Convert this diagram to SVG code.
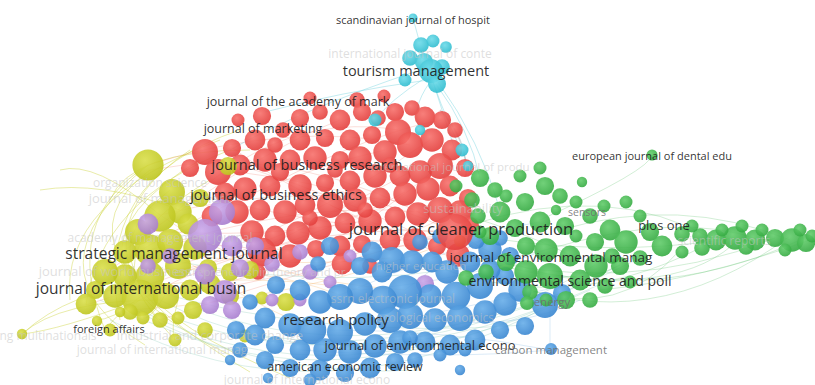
<svg xmlns="http://www.w3.org/2000/svg" width="815" height="385" viewBox="0 0 815 385">
<defs>
<radialGradient id="gr" cx=".4" cy=".35" r=".7"><stop offset="0" stop-color="#f7716c"/><stop offset="1" stop-color="#e23c3a"/></radialGradient>
<radialGradient id="gy" cx=".4" cy=".35" r=".7"><stop offset="0" stop-color="#dadf4c"/><stop offset="1" stop-color="#bcc41c"/></radialGradient>
<radialGradient id="gp" cx=".4" cy=".35" r=".7"><stop offset="0" stop-color="#cba8ea"/><stop offset="1" stop-color="#a57bcc"/></radialGradient>
<radialGradient id="gb" cx=".4" cy=".35" r=".7"><stop offset="0" stop-color="#68aee9"/><stop offset="1" stop-color="#3784cf"/></radialGradient>
<radialGradient id="gg" cx=".4" cy=".35" r=".7"><stop offset="0" stop-color="#62cc6b"/><stop offset="1" stop-color="#33a940"/></radialGradient>
<radialGradient id="gc" cx=".4" cy=".35" r=".7"><stop offset="0" stop-color="#6ddbe9"/><stop offset="1" stop-color="#2cbacd"/></radialGradient>
<radialGradient id="go" cx=".4" cy=".35" r=".7"><stop offset="0" stop-color="#f7b64e"/><stop offset="1" stop-color="#ea961e"/></radialGradient>
</defs>
<style>
.r{fill:url(#gr);fill-opacity:.9}
.y{fill:url(#gy);fill-opacity:.9}
.p{fill:url(#gp);fill-opacity:.9}
.b{fill:url(#gb);fill-opacity:.9}
.g{fill:url(#gg);fill-opacity:.9}
.c{fill:url(#gc);fill-opacity:.9}
.o{fill:url(#go);fill-opacity:.9}
/* bubbles of the main clusters are drawn a little larger than their base radius */
.big circle{transform-box:fill-box;transform-origin:center;transform:scale(1.3)}
.e path{fill:none;stroke-width:.8}
.ey path{stroke:#c8cf2a;stroke-opacity:.5}
.er path{stroke:#ee7060;stroke-opacity:.3}
.eo path{stroke:#f0a040;stroke-opacity:.3}
.et path{stroke:#7cc6b0;stroke-opacity:.35}
.eg path{stroke:#5cc26a;stroke-opacity:.35}
.ec path{stroke:#6acfdb;stroke-opacity:.5}
.eb path{stroke:#6aa8dc;stroke-opacity:.3}
.eq path{stroke:#a0a8ac;stroke-opacity:.45;stroke-width:1.6}
text{font-family:"Open Sans","Noto Sans","DejaVu Sans",sans-serif;text-anchor:middle}
.l{fill:#1c1c1c;fill-opacity:.92}
.m{fill:#6e6e6e;fill-opacity:.85}
.f{fill:#c4c4c4;fill-opacity:.55}
</style>
<rect width="815" height="385" fill="#fff"/>

<!-- links between journals -->
<g id="connectors" class="e">
<g class="ey">
<path d="M148,285 Q70,290 22,334"/>
<path d="M160,300 Q60,300 22,334"/>
<path d="M150,170 Q40,250 250,372"/>
<path d="M170,190 Q50,280 290,378"/>
<path d="M148,165 Q60,220 105,330"/>
<path d="M200,160 Q30,260 230,355"/>
<path d="M190,150 Q70,230 175,340"/>
<path d="M148,165 Q20,270 145,345"/>
<path d="M140,300 Q110,320 97,320"/>
<path d="M150,290 Q120,310 105,330"/>
<path d="M165,295 Q150,320 143,318"/>
<path d="M178,300 Q170,330 175,340"/>
<path d="M140,300 Q60,330 22,334"/>
<path d="M210,180 Q90,250 160,320"/>
<path d="M230,150 Q100,200 86,305"/>
<path d="M180,210 Q100,180 40,190"/>
<path d="M160,215 Q95,160 60,170"/>
<path d="M250,150 Q130,150 110,200"/>
<path d="M220,140 Q60,200 70,300"/>
<path d="M240,130 Q90,180 120,320"/>
</g>
<g class="er">
<path d="M150,170 Q300,140 455,232"/>
<path d="M160,215 Q300,180 440,208"/>
<path d="M148,165 Q290,120 410,145"/>
<path d="M140,300 Q280,220 455,232"/>
<path d="M150,250 Q300,200 420,212"/>
<path d="M170,240 Q320,260 455,240"/>
<path d="M105,272 Q250,180 385,150"/>
<path d="M178,265 Q300,230 430,140"/>
<path d="M165,295 Q320,280 460,210"/>
<path d="M125,250 Q260,150 340,120"/>
<path d="M140,230 Q260,240 370,220"/>
<path d="M150,275 Q300,250 405,192"/>
<path d="M190,290 Q320,270 440,165"/>
<path d="M86,305 Q260,250 355,200"/>
<path d="M200,195 Q330,230 455,232"/>
<path d="M215,170 Q340,180 455,232"/>
<path d="M240,165 Q350,200 458,253"/>
<path d="M260,250 Q360,200 450,150"/>
<path d="M300,232 Q380,250 455,232"/>
<path d="M233,148 Q300,200 420,240"/>
<path d="M270,185 Q380,130 442,120"/>
<path d="M330,205 Q400,240 460,260"/>
<path d="M160,320 Q300,270 455,232"/>
<path d="M178,210 Q280,110 398,130"/>
</g>
<g class="eo">
<path d="M130,310 Q300,300 455,240"/>
<path d="M150,250 Q280,270 390,258"/>
<path d="M105,272 Q250,260 340,295"/>
<path d="M160,215 Q250,280 405,290"/>
<path d="M140,230 Q240,300 312,328"/>
<path d="M120,290 Q250,270 360,290"/>
</g>
<g class="et">
<path d="M120,300 Q300,420 560,300"/>
<path d="M140,310 Q330,410 590,290"/>
<path d="M160,300 Q350,400 610,280"/>
<path d="M110,320 Q320,430 550,305"/>
<path d="M180,320 Q380,390 620,265"/>
<path d="M200,310 Q400,380 640,258"/>
<path d="M150,290 Q320,340 525,325"/>
<path d="M230,330 Q420,370 595,265"/>
<path d="M170,260 Q360,300 545,250"/>
<path d="M100,300 Q260,380 420,370"/>
</g>
<g class="eb">
<path d="M330,330 Q450,330 550,350"/>
<path d="M400,320 Q500,300 590,280"/>
<path d="M360,290 Q470,280 545,250"/>
<path d="M440,320 Q520,330 580,300"/>
<path d="M300,350 Q450,360 550,350"/>
<path d="M405,290 Q480,230 540,222"/>
<path d="M340,295 Q450,250 515,228"/>
<path d="M550,350 L550,300"/>
</g>
<g class="eg">
<path d="M480,260 Q650,310 800,240"/>
<path d="M500,280 Q650,340 790,236"/>
<path d="M600,290 Q700,280 810,240"/>
<path d="M560,230 Q680,195 790,240"/>
<path d="M545,250 Q680,210 760,240"/>
<path d="M525,270 Q680,300 740,238"/>
<path d="M455,232 Q600,260 735,238"/>
<path d="M458,253 Q620,300 775,238"/>
<path d="M470,225 Q610,180 715,240"/>
<path d="M540,220 Q650,170 652,155"/>
<path d="M455,232 Q560,300 620,265"/>
<path d="M440,208 Q520,230 570,255"/>
<path d="M420,260 Q560,320 700,248"/>
<path d="M530,290 Q620,320 680,250"/>
</g>
<g class="ec">
<path d="M433,82 L455,150"/>
<path d="M433,82 Q448,125 470,168"/>
<path d="M428,80 Q340,92 265,112"/>
<path d="M436,84 Q470,130 480,178"/>
<path d="M430,82 Q410,110 420,130"/>
<path d="M425,78 Q390,100 375,120"/>
<path d="M420,70 Q300,110 230,150"/>
<path d="M438,82 Q480,140 500,210"/>
<path d="M413,18 L420,44"/>
</g>
<g class="eq">
<path d="M440,110 Q468,140 466,176"/>
</g>
</g>

<!-- management and marketing journals -->
<g id="cluster-red" class="big">
<circle class="r" cx="357" cy="100" r="6"/><circle class="r" cx="238" cy="120" r="5"/><circle class="r" cx="262" cy="116" r="7"/><circle class="r" cx="283" cy="130" r="6"/><circle class="r" cx="300" cy="118" r="7"/><circle class="r" cx="320" cy="112" r="6"/><circle class="r" cx="340" cy="120" r="8"/><circle class="r" cx="362" cy="112" r="7"/><circle class="r" cx="378" cy="118" r="6"/><circle class="r" cx="395" cy="112" r="7"/><circle class="r" cx="412" cy="108" r="6"/><circle class="r" cx="425" cy="117" r="8"/><circle class="r" cx="442" cy="120" r="7"/><circle class="r" cx="398" cy="132" r="10"/><circle class="r" cx="372" cy="135" r="7"/><circle class="r" cx="350" cy="140" r="8"/><circle class="r" cx="325" cy="138" r="7"/><circle class="r" cx="300" cy="140" r="8"/><circle class="r" cx="275" cy="145" r="6"/><circle class="r" cx="255" cy="140" r="8"/><circle class="r" cx="232" cy="148" r="7"/><circle class="r" cx="205" cy="152" r="10"/><circle class="r" cx="190" cy="168" r="7"/><circle class="r" cx="218" cy="172" r="10"/><circle class="r" cx="240" cy="165" r="8"/><circle class="r" cx="265" cy="160" r="9"/><circle class="r" cx="290" cy="160" r="8"/><circle class="r" cx="315" cy="158" r="9"/><circle class="r" cx="340" cy="160" r="7"/><circle class="r" cx="360" cy="158" r="9"/><circle class="r" cx="385" cy="152" r="9"/><circle class="r" cx="410" cy="145" r="10"/><circle class="r" cx="432" cy="140" r="9"/><circle class="r" cx="452" cy="150" r="8"/><circle class="r" cx="440" cy="166" r="10"/><circle class="r" cx="420" cy="172" r="9"/><circle class="r" cx="400" cy="176" r="8"/><circle class="r" cx="375" cy="176" r="9"/><circle class="r" cx="350" cy="181" r="8"/><circle class="r" cx="325" cy="183" r="7"/><circle class="r" cx="300" cy="186" r="9"/><circle class="r" cx="270" cy="186" r="8"/><circle class="r" cx="245" cy="189" r="9"/><circle class="r" cx="225" cy="193" r="8"/><circle class="r" cx="212" cy="216" r="8"/><circle class="r" cx="237" cy="212" r="9"/><circle class="r" cx="260" cy="210" r="8"/><circle class="r" cx="285" cy="212" r="9"/><circle class="r" cx="305" cy="205" r="8"/><circle class="r" cx="330" cy="205" r="10"/><circle class="r" cx="355" cy="200" r="9"/><circle class="r" cx="380" cy="198" r="8"/><circle class="r" cx="405" cy="194" r="9"/><circle class="r" cx="428" cy="189" r="9"/><circle class="r" cx="450" cy="186" r="8"/><circle class="r" cx="468" cy="198" r="7"/><circle class="r" cx="460" cy="212" r="9"/><circle class="r" cx="440" cy="210" r="10"/><circle class="r" cx="418" cy="214" r="9"/><circle class="r" cx="395" cy="217" r="8"/><circle class="r" cx="370" cy="221" r="9"/><circle class="r" cx="345" cy="223" r="8"/><circle class="r" cx="320" cy="228" r="9"/><circle class="r" cx="298" cy="233" r="9"/><circle class="r" cx="275" cy="236" r="8"/><circle class="r" cx="252" cy="232" r="9"/><circle class="r" cx="262" cy="252" r="11"/><circle class="r" cx="290" cy="256" r="9"/><circle class="r" cx="316" cy="249" r="7"/><circle class="r" cx="340" cy="246" r="8"/><circle class="r" cx="362" cy="244" r="7"/><circle class="r" cx="390" cy="240" r="8"/><circle class="r" cx="415" cy="240" r="9"/><circle class="r" cx="437" cy="246" r="7"/><circle class="r" cx="458" cy="255" r="9"/><circle class="r" cx="470" cy="226" r="7"/><circle class="r" cx="342" cy="264" r="8"/><circle class="r" cx="370" cy="266" r="6"/><circle class="r" cx="258" cy="272" r="6"/><circle class="r" cx="465" cy="168" r="7"/><circle class="r" cx="455" cy="130" r="6"/><circle class="r" cx="310" cy="98" r="5"/><circle class="r" cx="384" cy="96" r="5"/><circle class="r" cx="280" cy="172" r="7"/><circle class="r" cx="335" cy="170" r="6"/><circle class="r" cx="390" cy="165" r="6"/><circle class="r" cx="365" cy="210" r="6"/><circle class="r" cx="310" cy="218" r="6"/>
</g>

<!-- international business journals -->
<g id="cluster-yellow" class="big">
<circle class="y" cx="148" cy="165" r="12"/><circle class="y" cx="172" cy="192" r="10"/><circle class="y" cx="180" cy="212" r="9"/><circle class="y" cx="160" cy="216" r="12"/><circle class="y" cx="138" cy="232" r="10"/><circle class="y" cx="125" cy="252" r="9"/><circle class="y" cx="150" cy="250" r="12"/><circle class="y" cx="170" cy="242" r="10"/><circle class="y" cx="188" cy="224" r="8"/><circle class="y" cx="195" cy="248" r="9"/><circle class="y" cx="178" cy="266" r="10"/><circle class="y" cx="150" cy="276" r="11"/><circle class="y" cx="125" cy="276" r="9"/><circle class="y" cx="105" cy="272" r="10"/><circle class="y" cx="95" cy="290" r="7"/><circle class="y" cx="115" cy="296" r="9"/><circle class="y" cx="140" cy="298" r="14"/><circle class="y" cx="166" cy="296" r="10"/><circle class="y" cx="190" cy="290" r="8"/><circle class="y" cx="210" cy="284" r="8"/><circle class="y" cx="230" cy="272" r="7"/><circle class="y" cx="86" cy="304" r="8"/><circle class="y" cx="130" cy="312" r="6"/><circle class="y" cx="160" cy="320" r="6"/><circle class="y" cx="178" cy="318" r="5"/><circle class="y" cx="193" cy="310" r="7"/><circle class="y" cx="205" cy="330" r="6"/><circle class="y" cx="175" cy="340" r="5"/><circle class="y" cx="143" cy="318" r="5"/><circle class="y" cx="22" cy="334" r="4"/><circle class="y" cx="97" cy="321" r="4"/><circle class="y" cx="110" cy="330" r="5"/><circle class="y" cx="230" cy="296" r="7"/><circle class="y" cx="250" cy="270" r="7"/><circle class="y" cx="262" cy="298" r="5"/><circle class="y" cx="245" cy="336" r="5"/><circle class="y" cx="286" cy="302" r="7"/><circle class="y" cx="228" cy="166" r="7"/><circle class="y" cx="200" cy="198" r="7"/><circle class="y" cx="120" cy="312" r="4"/><circle class="y" cx="208" cy="268" r="7"/>
</g>

<!-- entrepreneurship journals -->
<g id="cluster-purple" class="big">
<circle class="p" cx="148" cy="224" r="8"/><circle class="p" cx="205" cy="236" r="13"/><circle class="p" cx="222" cy="212" r="10"/><circle class="p" cx="232" cy="246" r="8"/><circle class="p" cx="255" cy="246" r="7"/><circle class="p" cx="240" cy="268" r="7"/><circle class="p" cx="205" cy="274" r="8"/><circle class="p" cx="225" cy="292" r="9"/><circle class="p" cx="210" cy="305" r="7"/><circle class="p" cx="232" cy="310" r="7"/><circle class="p" cx="272" cy="300" r="5"/><circle class="p" cx="300" cy="252" r="6"/><circle class="p" cx="310" cy="272" r="6"/><circle class="p" cx="330" cy="282" r="5"/><circle class="p" cx="350" cy="256" r="5"/><circle class="p" cx="425" cy="284" r="7"/><circle class="p" cx="170" cy="256" r="6"/><circle class="p" cx="148" cy="266" r="6"/><circle class="p" cx="272" cy="264" r="6"/><circle class="p" cx="300" cy="300" r="5"/>
</g>

<!-- economics and policy journals -->
<g id="cluster-blue" class="big">
<circle class="b" cx="330" cy="246" r="7"/><circle class="b" cx="372" cy="252" r="8"/><circle class="b" cx="392" cy="260" r="10"/><circle class="b" cx="412" cy="262" r="9"/><circle class="b" cx="432" cy="262" r="8"/><circle class="b" cx="447" cy="272" r="9"/><circle class="b" cx="470" cy="262" r="8"/><circle class="b" cx="490" cy="250" r="9"/><circle class="b" cx="505" cy="276" r="7"/><circle class="b" cx="520" cy="290" r="9"/><circle class="b" cx="480" cy="286" r="10"/><circle class="b" cx="456" cy="296" r="11"/><circle class="b" cx="430" cy="296" r="9"/><circle class="b" cx="405" cy="292" r="13"/><circle class="b" cx="383" cy="300" r="11"/><circle class="b" cx="360" cy="291" r="10"/><circle class="b" cx="340" cy="297" r="10"/><circle class="b" cx="320" cy="302" r="9"/><circle class="b" cx="300" cy="290" r="8"/><circle class="b" cx="276" cy="285" r="7"/><circle class="b" cx="250" cy="302" r="6"/><circle class="b" cx="265" cy="318" r="8"/><circle class="b" cx="290" cy="325" r="9"/><circle class="b" cx="312" cy="330" r="11"/><circle class="b" cx="340" cy="332" r="10"/><circle class="b" cx="365" cy="324" r="9"/><circle class="b" cx="390" cy="320" r="10"/><circle class="b" cx="410" cy="316" r="10"/><circle class="b" cx="435" cy="320" r="9"/><circle class="b" cx="460" cy="318" r="10"/><circle class="b" cx="485" cy="312" r="9"/><circle class="b" cx="505" cy="304" r="9"/><circle class="b" cx="545" cy="305" r="10"/><circle class="b" cx="562" cy="293" r="7"/><circle class="b" cx="525" cy="326" r="7"/><circle class="b" cx="500" cy="330" r="7"/><circle class="b" cx="475" cy="340" r="8"/><circle class="b" cx="450" cy="345" r="8"/><circle class="b" cx="425" cy="342" r="8"/><circle class="b" cx="400" cy="342" r="9"/><circle class="b" cx="375" cy="346" r="9"/><circle class="b" cx="350" cy="352" r="9"/><circle class="b" cx="325" cy="350" r="9"/><circle class="b" cx="300" cy="350" r="8"/><circle class="b" cx="275" cy="345" r="7"/><circle class="b" cx="255" cy="335" r="8"/><circle class="b" cx="236" cy="330" r="7"/><circle class="b" cx="240" cy="350" r="6"/><circle class="b" cx="265" cy="360" r="7"/><circle class="b" cx="290" cy="368" r="7"/><circle class="b" cx="320" cy="370" r="8"/><circle class="b" cx="345" cy="373" r="7"/><circle class="b" cx="370" cy="368" r="8"/><circle class="b" cx="395" cy="362" r="7"/><circle class="b" cx="415" cy="360" r="6"/><circle class="b" cx="440" cy="355" r="5"/><circle class="b" cx="310" cy="380" r="5"/><circle class="b" cx="268" cy="378" r="4"/><circle class="b" cx="410" cy="338" r="6"/><circle class="b" cx="382" cy="272" r="8"/><circle class="b" cx="360" cy="266" r="7"/><circle class="b" cx="318" cy="264" r="6"/><circle class="b" cx="465" cy="350" r="5"/><circle class="b" cx="476" cy="240" r="7"/><circle class="b" cx="500" cy="238" r="6"/><circle class="b" cx="490" cy="270" r="8"/><circle class="b" cx="510" cy="256" r="7"/><circle class="b" cx="420" cy="242" r="6"/><circle class="b" cx="440" cy="236" r="6"/><circle class="b" cx="230" cy="360" r="4"/><circle class="b" cx="460" cy="370" r="4"/>
</g>

<!-- environmental science journals -->
<g id="cluster-green" class="big">
<circle class="g" cx="456" cy="186" r="5"/><circle class="g" cx="480" cy="178" r="7"/><circle class="g" cx="472" cy="200" r="6"/><circle class="g" cx="495" cy="190" r="6"/><circle class="g" cx="520" cy="176" r="5"/><circle class="g" cx="545" cy="186" r="7"/><circle class="g" cx="560" cy="196" r="6"/><circle class="g" cx="576" cy="202" r="5"/><circle class="g" cx="525" cy="202" r="7"/><circle class="g" cx="500" cy="212" r="8"/><circle class="g" cx="478" cy="216" r="6"/><circle class="g" cx="490" cy="236" r="7"/><circle class="g" cx="515" cy="228" r="7"/><circle class="g" cx="540" cy="222" r="8"/><circle class="g" cx="565" cy="226" r="7"/><circle class="g" cx="590" cy="216" r="6"/><circle class="g" cx="610" cy="230" r="8"/><circle class="g" cx="595" cy="242" r="7"/><circle class="g" cx="626" cy="242" r="9"/><circle class="g" cx="650" cy="232" r="7"/><circle class="g" cx="662" cy="246" r="8"/><circle class="g" cx="682" cy="234" r="6"/><circle class="g" cx="700" cy="236" r="6"/><circle class="g" cx="716" cy="240" r="8"/><circle class="g" cx="735" cy="238" r="9"/><circle class="g" cx="755" cy="240" r="8"/><circle class="g" cx="775" cy="238" r="7"/><circle class="g" cx="792" cy="240" r="9"/><circle class="g" cx="806" cy="243" r="7"/><circle class="g" cx="762" cy="230" r="5"/><circle class="g" cx="722" cy="230" r="5"/><circle class="g" cx="746" cy="247" r="6"/><circle class="g" cx="800" cy="230" r="5"/><circle class="g" cx="812" cy="236" r="5"/><circle class="g" cx="526" cy="246" r="7"/><circle class="g" cx="546" cy="250" r="9"/><circle class="g" cx="570" cy="256" r="8"/><circle class="g" cx="596" cy="266" r="9"/><circle class="g" cx="620" cy="266" r="7"/><circle class="g" cx="640" cy="258" r="6"/><circle class="g" cx="506" cy="262" r="7"/><circle class="g" cx="526" cy="272" r="9"/><circle class="g" cx="550" cy="276" r="10"/><circle class="g" cx="580" cy="280" r="8"/><circle class="g" cx="605" cy="286" r="6"/><circle class="g" cx="530" cy="292" r="6"/><circle class="g" cx="546" cy="300" r="5"/><circle class="g" cx="566" cy="300" r="7"/><circle class="g" cx="590" cy="300" r="6"/><circle class="g" cx="486" cy="272" r="6"/><circle class="g" cx="466" cy="278" r="6"/><circle class="g" cx="640" cy="216" r="5"/><circle class="g" cx="604" cy="206" r="5"/><circle class="g" cx="626" cy="202" r="5"/><circle class="g" cx="582" cy="182" r="4"/><circle class="g" cx="540" cy="168" r="5"/><circle class="g" cx="612" cy="256" r="6"/><circle class="g" cx="682" cy="252" r="5"/><circle class="g" cx="702" cy="248" r="6"/><circle class="g" cx="630" cy="282" r="5"/><circle class="g" cx="692" cy="226" r="5"/><circle class="g" cx="742" cy="226" r="5"/><circle class="g" cx="576" cy="236" r="5"/><circle class="g" cx="556" cy="210" r="4"/><circle class="g" cx="506" cy="196" r="5"/><circle class="g" cx="480" cy="232" r="5"/><circle class="g" cx="785" cy="250" r="5"/>
</g>

<!-- hospitality and tourism journals -->
<g id="cluster-cyan" class="big">
<circle class="c" cx="413" cy="18" r="3.5"/><circle class="c" cx="421" cy="45" r="6"/><circle class="c" cx="433" cy="41" r="5"/><circle class="c" cx="446" cy="47" r="4.5"/><circle class="c" cx="410" cy="58" r="6"/><circle class="c" cx="424" cy="62" r="7"/><circle class="c" cx="442" cy="67" r="6"/><circle class="c" cx="405" cy="80" r="5"/><circle class="c" cx="375" cy="120" r="5"/><circle class="c" cx="462" cy="150" r="5"/><circle class="c" cx="420" cy="130" r="4"/><circle class="c" cx="468" cy="166" r="4"/>
</g>
<g id="node-orange"><circle class="o" cx="460" cy="241" r="6"/></g>

<!-- faint labels of smaller journals -->
<g id="minor-labels" font-size="12">
<text class="f" x="410" y="58">international journal of conte</text>
<text class="f" x="450" y="171" font-size="11.5">international journal of produ</text>
<text class="f" x="463" y="213" font-size="13">sustainability</text>
<text class="f" x="724" y="245">scientific reports</text>
<text class="f" x="421" y="270" font-size="11.5">higher education</text>
<text class="f" x="393" y="303">ssrn electronic journal</text>
<text class="f" x="435" y="322">ecological economics</text>
<text class="f" x="150" y="187">organization science</text>
<text class="f" x="160" y="203" font-size="13">journal of management</text>
<text class="f" x="160" y="242">academy of management journal</text>
<text class="f" x="115" y="276" font-size="13">journal of world business</text>
<text class="f" x="260" y="276" font-size="11.5">entrepreneurship theory and pr</text>
<text class="f" x="48" y="340">ng multinationals</text>
<text class="f" x="210" y="340" font-size="12.5">industrial and corporate change</text>
<text class="f" x="162" y="354" font-size="12">journal of international manag</text>
<text class="f" x="307" y="384" font-size="12">journal of international econo</text>
</g>

<!-- labelled journals -->
<g id="node-scandinavian-journal"><text class="l" x="413" y="24" font-size="11">scandinavian journal of hospit</text></g>
<g id="node-tourism-management"><circle class="c" cx="431" cy="71" r="12"/><circle class="c" cx="437" cy="84" r="9"/><text class="l" x="416" y="76" font-size="14.5">tourism management</text></g>
<g id="node-journal-academy-marketing"><text class="l" x="298" y="106" font-size="12.5">journal of the academy of mark</text></g>
<g id="node-journal-of-marketing"><text class="l" x="263" y="133" font-size="12.5">journal of marketing</text></g>
<g id="node-journal-business-research"><text class="l" x="307" y="170" font-size="14.5">journal of business research</text></g>
<g id="node-journal-business-ethics"><text class="l" x="276" y="200" font-size="14.5">journal of business ethics</text></g>
<g id="node-journal-cleaner-production"><circle class="r" cx="455" cy="232" r="18"/><text class="l" x="461" y="235" font-size="16.5">journal of cleaner production</text></g>
<g id="node-strategic-management-journal"><text class="l" x="174" y="259" font-size="15.5">strategic management journal</text></g>
<g id="node-journal-international-business"><text class="l" x="141" y="294" font-size="15.5">journal of international busin</text></g>
<g id="node-foreign-affairs"><text class="l" x="109" y="333" font-size="11">foreign affairs</text></g>
<g id="node-journal-environmental-management"><text class="l" x="551" y="262" font-size="13.5">journal of environmental manag</text></g>
<g id="node-environmental-science-pollution"><text class="l" x="570" y="286" font-size="14">environmental science and poll</text></g>
<g id="node-plos-one"><text class="l" x="664" y="230" font-size="13">plos one</text></g>
<g id="node-sensors"><text class="m" x="587" y="216" font-size="10.5">sensors</text></g>
<g id="node-european-journal-dental"><circle class="g" cx="652" cy="155" r="5.5"/><text class="l" x="652" y="160" font-size="11">european journal of dental edu</text></g>
<g id="node-research-policy"><text class="l" x="336" y="325" font-size="15">research policy</text></g>
<g id="node-journal-environmental-economics"><text class="l" x="420" y="350" font-size="13">journal of environmental econo</text></g>
<g id="node-american-economic-review"><text class="l" x="345" y="371" font-size="12.5">american economic review</text></g>
<g id="node-energy"><circle class="g" cx="527" cy="303" r="7"/><text class="m" x="552" y="306" font-size="11.5">energy</text></g>
<g id="node-carbon-management"><circle class="b" cx="551" cy="349" r="6"/><text class="m" x="551" y="354" font-size="11.5">carbon management</text></g>
</svg>
